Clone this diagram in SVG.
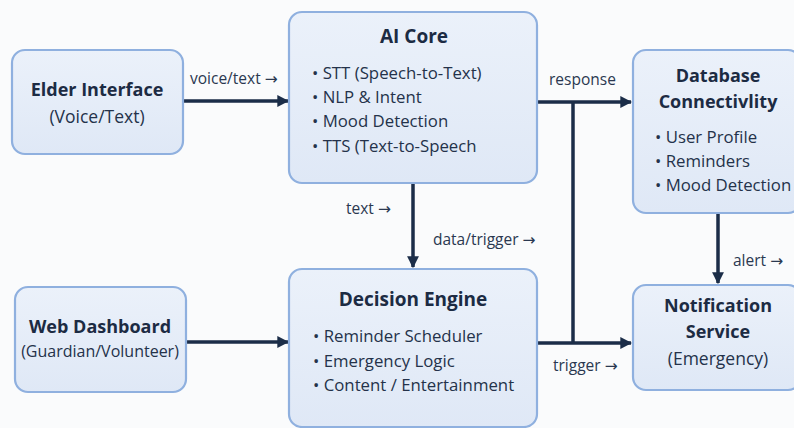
<svg xmlns="http://www.w3.org/2000/svg" width="794" height="428" viewBox="0 0 794 428">
<defs>
<linearGradient id="bg" x1="0" y1="0" x2="0" y2="1"><stop offset="0" stop-color="#ebf1fa"/><stop offset="1" stop-color="#dfe8f6"/></linearGradient>
<marker id="ah" viewBox="0 0 10 10" refX="9" refY="5" markerWidth="3.4" markerHeight="3.4" orient="auto" markerUnits="strokeWidth"><path d="M0,0 L10,5 L0,10 z" fill="#1b2d48"/></marker>
<style>
.box{fill:url(#bg);stroke:#8fb0df;stroke-width:2.2}
.t{font-family:"Open Sans","Noto Sans",sans-serif;font-weight:700;font-size:18px;fill:#1c2b43;text-anchor:middle}
.s{font-family:"Open Sans","Noto Sans",sans-serif;font-size:17.5px;fill:#24324a;text-anchor:middle}
.b{font-family:"Open Sans","Noto Sans",sans-serif;font-size:16.8px;fill:#24324a}
.l{font-family:"Open Sans","Noto Sans",sans-serif;font-size:15.5px;fill:#2a3850}
.a{font-family:"DejaVu Sans",sans-serif;font-size:15.5px}
.c{fill:none;stroke:#1b2d48;stroke-width:3.5}
</style>
</defs>
<rect width="794" height="428" fill="#fafbfc"/>
<g id="connectors">
<path class="c" d="M183,101 H288" marker-end="url(#ah)"/>
<path class="c" d="M537,102 H631" marker-end="url(#ah)"/>
<path class="c" d="M573,102 V343"/>
<path class="c" d="M413,183 V267" marker-end="url(#ah)"/>
<path class="c" d="M186,342 H288" marker-end="url(#ah)"/>
<path class="c" d="M537,343 H631" marker-end="url(#ah)"/>
<path class="c" d="M718,213 V283" marker-end="url(#ah)"/>
<text class="l" x="190" y="84">voice/text <tspan class="a">→</tspan></text>
<text class="l" x="549" y="85">response</text>
<text class="l" x="346" y="214">text <tspan class="a">→</tspan></text>
<text class="l" x="433" y="245">data/trigger <tspan class="a">→</tspan></text>
<text class="l" x="733" y="266">alert <tspan class="a">→</tspan></text>
<text class="l" x="553" y="371">trigger <tspan class="a">→</tspan></text>
</g>
<g id="elder">
<rect class="box" x="12" y="50" width="171" height="104" rx="13"/>
<text class="t" x="97" y="96">Elder Interface</text>
<text class="s" x="97" y="123">(Voice/Text)</text>
</g>
<g id="ai-core">
<rect class="box" x="289" y="12" width="248" height="171" rx="13"/>
<text class="t" x="414" y="43" style="font-size:19px">AI Core</text>
<text class="b" x="312" y="79">• STT (Speech-to-Text)</text>
<text class="b" x="312" y="103">• NLP &amp; Intent</text>
<text class="b" x="312" y="127">• Mood Detection</text>
<text class="b" x="312" y="152">• TTS (Text-to-Speech</text>
</g>
<g id="database">
<rect class="box" x="633" y="50" width="168" height="163" rx="13"/>
<text class="t" x="718" y="82">Database</text>
<text class="t" x="718" y="108">Connectivlity</text>
<text class="b" x="655" y="143">• User Profile</text>
<text class="b" x="655" y="167">• Reminders</text>
<text class="b" x="655" y="191">• Mood Detection</text>
</g>
<g id="web-dashboard">
<rect class="box" x="15" y="287" width="171" height="105" rx="13"/>
<text class="t" x="100" y="333">Web Dashboard</text>
<text class="s" x="100" y="357" style="font-size:16px">(Guardian/Volunteer)</text>
</g>
<g id="decision-engine">
<rect class="box" x="289" y="269" width="248" height="158" rx="13"/>
<text class="t" x="413" y="306" style="font-size:19px">Decision Engine</text>
<text class="b" x="313" y="342">• Reminder Scheduler</text>
<text class="b" x="313" y="367">• Emergency Logic</text>
<text class="b" x="313" y="391">• Content / Entertainment</text>
</g>
<g id="notification">
<rect class="box" x="633" y="285" width="168" height="105" rx="13"/>
<text class="t" x="718" y="312">Notification</text>
<text class="t" x="718" y="338">Service</text>
<text class="s" x="718" y="365">(Emergency)</text>
</g>
</svg>
